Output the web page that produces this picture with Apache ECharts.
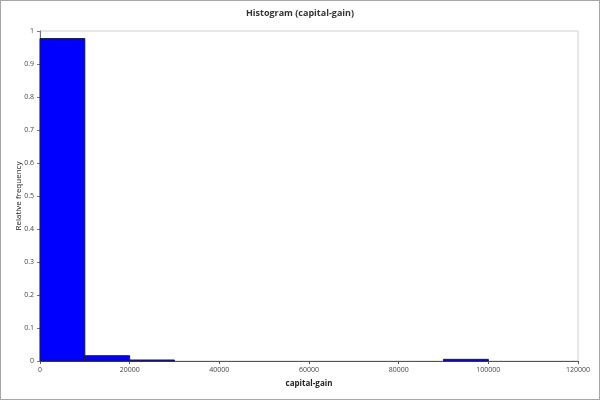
<!DOCTYPE html>
<html>
<head>
<meta charset="utf-8">
<script src="https://cdn.jsdelivr.net/npm/echarts@6/dist/echarts.min.js"></script>
<style>
  html, body { margin: 0; padding: 0; background: #fff; }
  #main { width: 598px; height: 398px; border: 1px solid #a6a6a6; }
</style>
</head>
<body>
<div id="main"></div>
<script>
// bin edges and relative frequency for each bin
var binStart = [0, 10000, 20000, 30000, 40000, 50000, 60000, 70000, 80000, 90000, 100000, 110000];
var binEnd   = [10000, 20000, 30000, 40000, 50000, 60000, 70000, 80000, 90000, 100000, 110000, 120000];
var relFreq  = [0.977, 0.016, 0.003, 0, 0, 0, 0, 0, 0, 0.005, 0, 0];

var data = binStart.map(function (s, i) { return [s, binEnd[i], relFreq[i]]; });

var chart = echarts.init(document.getElementById('main'));

chart.setOption({
    animation: false,
    title: {
        text: 'Histogram (capital-gain)',
        left: 'center',
        top: 3,
        textStyle: { fontFamily: 'Open Sans', fontSize: 9, fontWeight: 'bold', color: '#333' }
    },
    grid: {
        left: 39, right: 21, top: 30, bottom: 38,
        outerBoundsMode: 'none',
        show: true, borderColor: '#cfcfcf', borderWidth: 1
    },
    xAxis: {
        type: 'value',
        min: 0,
        max: 120000,
        interval: 20000,
        name: 'capital-gain',
        nameLocation: 'middle',
        nameGap: 19,
        nameMoveOverlap: false,
        nameTextStyle: { fontFamily: 'Open Sans', fontSize: 8, fontWeight: 'bold', color: '#222' },
        axisLine: { show: true, lineStyle: { color: '#555', width: 1 } },
        axisTick: { show: true, length: 3, lineStyle: { color: '#555' } },
        axisLabel: { fontFamily: 'Open Sans', fontSize: 7, color: '#444', margin: 5,
            formatter: function (v) { return String(v); } },
        splitLine: { show: false }
    },
    yAxis: {
        type: 'value',
        min: 0,
        max: 1,
        interval: 0.1,
        name: 'Relative frequency',
        nameLocation: 'middle',
        nameGap: 17,
        nameMoveOverlap: false,
        nameTextStyle: { fontFamily: 'Open Sans', fontSize: 8, color: '#222' },
        axisLine: { show: true, lineStyle: { color: '#777', width: 1 } },
        axisTick: { show: true, length: 3, lineStyle: { color: '#777' } },
        axisLabel: {
            fontFamily: 'Open Sans', fontSize: 7, color: '#444', margin: 6,
            formatter: function (v) { return String(Math.round(v * 10) / 10); }
        },
        splitLine: { show: false }
    },
    series: [{
        type: 'custom',
        data: data,
        encode: { x: [0, 1], y: 2 },
        renderItem: function (params, api) {
            if (!api.value(2)) return null;
            var p0 = api.coord([api.value(0), api.value(2)]);
            var p1 = api.coord([api.value(1), 0]);
            return {
                type: 'rect',
                shape: { x: p0[0], y: p0[1], width: p1[0] - p0[0], height: p1[1] - p0[1] },
                style: { fill: '#0000ff', stroke: '#1a1a40', lineWidth: 1 }
            };
        }
    }]
});
</script>
</body>
</html>
